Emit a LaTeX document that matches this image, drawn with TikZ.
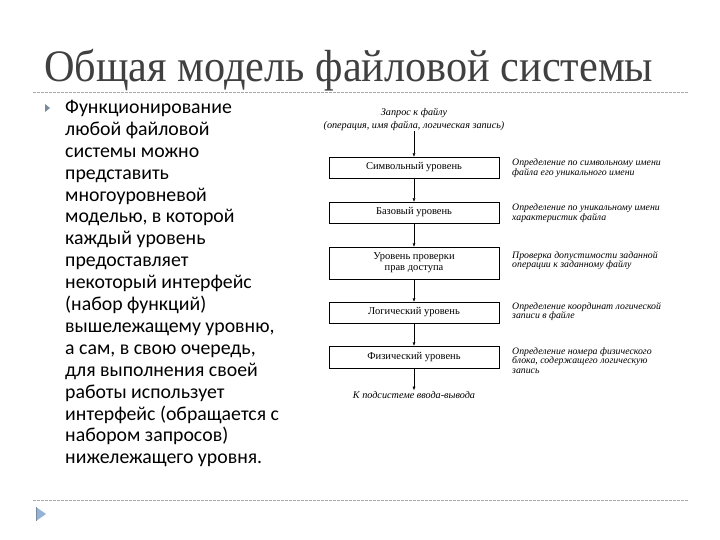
\documentclass[tikz,border=0pt]{standalone}
\usepackage{fontspec}
\setmainfont{Liberation Serif}
\newfontfamily\bodyfont{Carlito}
\newfontfamily\titlefont[FakeStretch=0.94]{Liberation Serif}
\usetikzlibrary{arrows.meta}
\definecolor{titlegray}{HTML}{404040}
\definecolor{rulegray}{HTML}{A6A6A6}
\definecolor{bulletgray}{HTML}{7A8A9A}
\definecolor{bulletblue}{HTML}{95B3D7}
\begin{document}
\begin{tikzpicture}[x=1pt, y=-1pt,
	levelbox/.style={draw, thin, minimum width=170pt, inner sep=1pt, align=center, font=\fontsize{10.5}{11}\selectfont},
	levelnote/.style={anchor=north west, align=left, inner sep=0pt, font=\fontsize{9.8}{9.6}\selectfont\itshape},
	flowtext/.style={align=center, inner sep=1pt, font=\fontsize{10.2}{13}\selectfont\itshape},
	flow/.style={-{Latex[length=3.5pt,width=3pt]}, thin}]
	\useasboundingbox[fill=white] (0,0) rectangle (720,540);
	% title and rules
	\node[anchor=base west, inner sep=0pt, text=titlegray, font=\titlefont\fontsize{45}{45}\selectfont] (title) at (44,82) {Общая модель файловой системы};
	\draw[rulegray, dashed, dash pattern=on 3pt off 1pt] (33,92) -- (688,92);
	\draw[rulegray, dashed, dash pattern=on 3pt off 1pt] (33,500) -- (688,500);
	\fill[bulletgray] (45,104) -- (50,108) -- (45,112) -- cycle;
	\fill[bulletblue] (36,507) -- (46,514) -- (36,521) -- cycle;
	\draw[bulletgray, thick] (36,507) -- (36,521);
	% bullet text
	\node[anchor=north west, align=left, inner sep=0pt, font=\bodyfont\fontsize{19.8}{21.9}\selectfont] (body) at (65,100)
		{Функционирование\\ любой файловой\\ системы можно\\ представить\\ многоуровневой\\ моделью, в которой\\ каждый уровень\\ предоставляет\\ некоторый интерфейс\\ (набор функций)\\ вышележащему уровню,\\ а сам, в свою очередь,\\ для выполнения своей\\ работы использует\\ интерфейс (обращается с\\ набором запросов)\\ нижележащего уровня.};
	% levels
	\node[flowtext] (request) at (414,119) {Запрос к файлу\\ (операция, имя файла, логическая запись)};
	\node[levelbox, minimum height=21pt] (symbolic) at (414,167.5) {Символьный уровень};
	\node[levelbox, minimum height=21pt] (basic) at (414,212.5) {Базовый уровень};
	\node[levelbox, minimum height=32pt] (access) at (414,263) {Уровень проверки\\ прав доступа};
	\node[levelbox, minimum height=21pt] (logical) at (414,312.5) {Логический уровень};
	\node[levelbox, minimum height=22pt] (physical) at (414,357) {Физический уровень};
	\node[flowtext] (io) at (414,395) {К подсистеме ввода-вывода};
	\draw[flow] (request) -- (symbolic);
	\draw[flow] (symbolic) -- (basic);
	\draw[flow] (basic) -- (access);
	\draw[flow] (access) -- (logical);
	\draw[flow] (logical) -- (physical);
	\draw[flow] (physical) -- (io);
	% notes
	\node[levelnote] (note1) at (512,159) {Определение по символьному имени\\ файла его уникального имени};
	\node[levelnote] (note2) at (512,204) {Определение по уникальному имени\\ характеристик файла};
	\node[levelnote] (note3) at (512,251) {Проверка допустимости заданной\\ операции к заданному файлу};
	\node[levelnote] (note4) at (512,302) {Определение координат логической\\ записи в файле};
	\node[levelnote] (note5) at (512,347) {Определение номера физического\\ блока, содержащего логическую\\ запись};
\end{tikzpicture}
\end{document}
